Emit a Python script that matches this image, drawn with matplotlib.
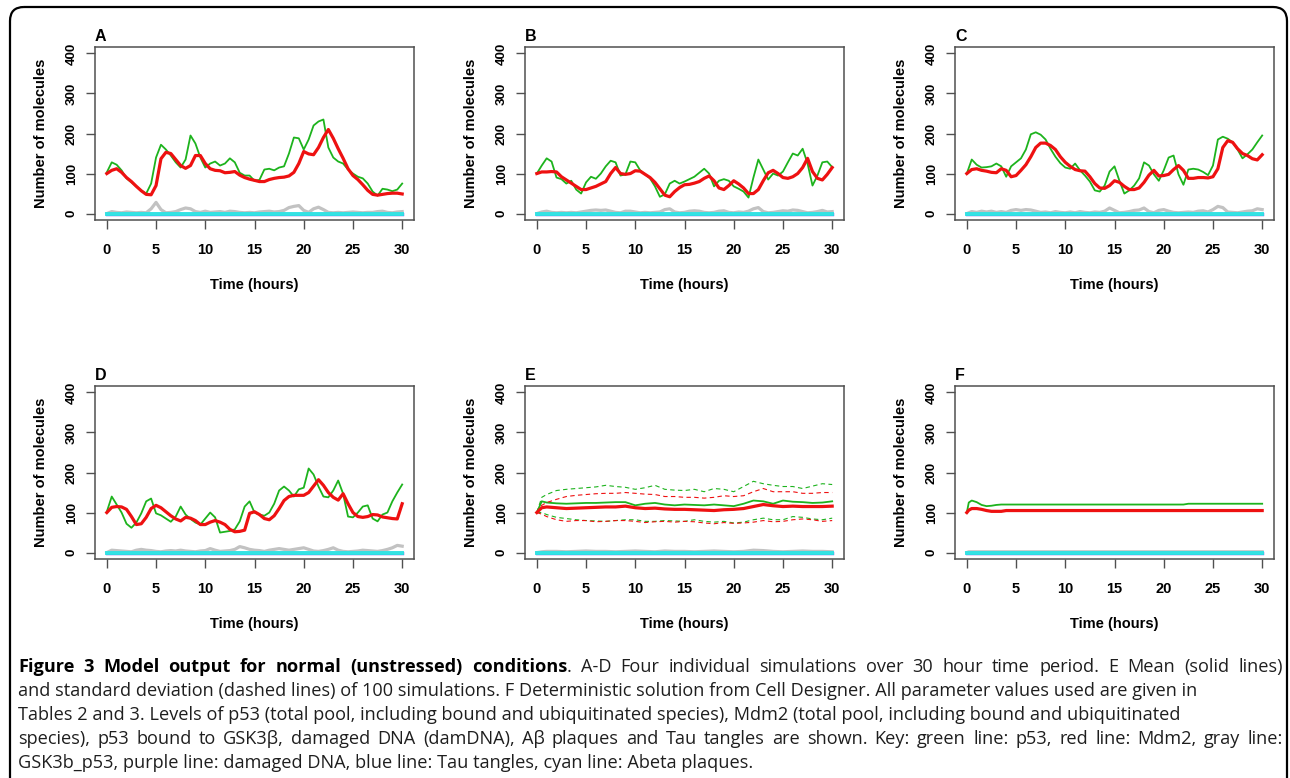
import numpy as np
import matplotlib
matplotlib.use('Agg')
import matplotlib.pyplot as plt
from matplotlib.patches import FancyBboxPatch

# time grid of the stochastic runs (hours)
hours = np.arange(0, 30.5, 0.5)

# Panel A
a_p53 = [103, 128, 122, 108, 88, 78, 68, 57, 50, 75, 140, 172, 160, 145, 128, 115, 135, 195, 175, 140,
         115, 125, 130, 120, 125, 138, 128, 102, 95, 95, 82, 84, 110, 112, 108, 115, 118, 150, 190, 188,
         160, 185, 220, 230, 235, 165, 140, 130, 125, 110, 100, 92, 88, 75, 55, 45, 62, 60, 56, 60, 75]
a_mdm2 = [100, 108, 112, 103, 90, 80, 68, 57, 48, 47, 70, 137, 153, 150, 135, 120, 113, 120, 145, 145,
          125, 112, 108, 107, 102, 103, 105, 96, 90, 86, 83, 80, 80, 85, 88, 90, 91, 94, 103, 125,
          155, 149, 147, 165, 190, 210, 188, 162, 138, 112, 95, 85, 72, 58, 48, 46, 48, 50, 51, 51, 49]
a_gsk = [0, 5, 3, 2, 4, 3, 2, 3, 2, 12, 28, 10, 2, 3, 5, 10, 14, 12, 5, 3,
         6, 3, 4, 5, 3, 6, 5, 3, 2, 3, 2, 4, 5, 6, 4, 5, 8, 15, 18, 20,
         8, 3, 12, 16, 10, 3, 2, 3, 2, 3, 4, 3, 2, 3, 3, 5, 6, 3, 2, 4, 5]

# Panel B
b_p53 = [100, 120, 138, 130, 90, 86, 75, 82, 60, 50, 78, 92, 87, 100, 118, 132, 128, 95, 98, 130,
         128, 108, 98, 88, 68, 42, 48, 75, 82, 75, 80, 86, 92, 102, 112, 100, 68, 82, 86, 82,
         68, 62, 55, 40, 90, 135, 110, 85, 100, 95, 105, 128, 150, 145, 162, 125, 70, 95, 128, 130, 116]
b_mdm2 = [100, 104, 104, 105, 104, 92, 84, 76, 68, 60, 60, 64, 68, 74, 80, 100, 115, 100, 98, 100,
          107, 106, 98, 90, 78, 62, 46, 42, 55, 65, 72, 73, 76, 80, 88, 94, 82, 64, 60, 70,
          82, 74, 64, 50, 50, 60, 82, 102, 108, 100, 90, 88, 92, 100, 115, 138, 105, 88, 84, 98, 115]
b_gsk = [0, 4, 6, 3, 2, 3, 2, 3, 2, 4, 6, 8, 9, 8, 9, 6, 3, 2, 6, 6,
         4, 2, 3, 2, 3, 4, 10, 12, 4, 2, 3, 6, 7, 6, 3, 2, 3, 6, 7, 3,
         2, 4, 3, 6, 12, 15, 5, 2, 3, 5, 7, 6, 9, 8, 5, 2, 3, 5, 8, 4, 5]

# Panel C
c_p53 = [100, 135, 122, 115, 116, 118, 125, 118, 92, 118, 128, 138, 160, 198, 203, 197, 185, 162, 142, 126,
         115, 112, 125, 108, 95, 80, 58, 55, 70, 105, 118, 82, 50, 58, 70, 88, 128, 120, 98, 82,
         108, 140, 145, 98, 72, 110, 112, 110, 104, 96, 120, 185, 192, 187, 178, 160, 138, 148, 160, 178, 195]
c_mdm2 = [100, 110, 112, 108, 106, 103, 102, 112, 108, 92, 95, 108, 122, 142, 165, 176, 176, 170, 160, 142,
          128, 118, 110, 107, 106, 92, 75, 64, 63, 70, 82, 78, 68, 60, 60, 64, 78, 96, 108, 94,
          95, 98, 110, 120, 108, 88, 88, 90, 90, 89, 92, 112, 165, 182, 178, 162, 150, 145, 137, 134, 147]
c_gsk = [0, 5, 3, 6, 4, 6, 3, 5, 3, 8, 10, 8, 10, 9, 6, 3, 4, 2, 5, 3,
         2, 4, 2, 5, 3, 2, 4, 3, 6, 14, 8, 2, 3, 5, 8, 9, 14, 5, 2, 8,
         10, 6, 3, 2, 3, 4, 3, 6, 7, 4, 10, 18, 15, 4, 3, 2, 4, 6, 7, 12, 10]

# Panel D
d_p53 = [102, 140, 120, 100, 72, 62, 75, 98, 128, 135, 98, 93, 85, 77, 90, 115, 95, 84, 75, 70,
         85, 100, 88, 50, 52, 54, 58, 78, 115, 128, 100, 95, 92, 100, 122, 155, 165, 155, 140, 158,
         162, 210, 195, 165, 140, 138, 155, 180, 147, 90, 88, 100, 115, 118, 85, 78, 95, 100, 128, 150, 170]
d_mdm2 = [100, 113, 115, 114, 108, 90, 70, 72, 88, 110, 118, 112, 102, 92, 84, 79, 88, 86, 80, 70,
          70, 76, 80, 76, 70, 58, 52, 53, 56, 98, 102, 95, 85, 82, 92, 110, 130, 140, 143, 143,
          143, 150, 166, 182, 168, 150, 138, 131, 147, 122, 100, 90, 88, 90, 95, 94, 89, 87, 85, 84, 122]
d_gsk = [0, 6, 5, 4, 3, 2, 6, 8, 6, 5, 3, 2, 4, 5, 4, 6, 4, 3, 2, 4,
         5, 10, 6, 3, 4, 5, 8, 15, 12, 8, 6, 5, 3, 6, 8, 10, 8, 6, 8, 10,
         12, 8, 4, 3, 5, 8, 12, 6, 3, 2, 3, 4, 6, 5, 4, 3, 5, 8, 12, 18, 16]

# Panel E: mean and mean +/- sd of 100 runs
e_hours = [0, 0.5] + list(range(1, 31))
e_p53 = [100, 128, 125, 123, 122, 123, 124, 124, 125, 126, 126, 118, 122, 124, 120, 118,
         120, 119, 118, 120, 118, 116, 122, 130, 128, 122, 130, 127, 126, 124, 125, 128]
e_mdm2 = [100, 112, 114, 112, 110, 111, 112, 113, 114, 114, 116, 112, 110, 111, 109, 108,
          108, 107, 106, 105, 107, 108, 110, 115, 120, 117, 115, 116, 115, 115, 115, 116]
e_p53_hi = [100, 138, 145, 155, 158, 160, 162, 164, 168, 165, 163, 158, 162, 168, 158, 156,
            155, 158, 152, 160, 158, 152, 165, 178, 172, 168, 165, 165, 160, 166, 172, 170]
e_p53_lo = [100, 100, 95, 88, 85, 82, 80, 79, 78, 80, 82, 82, 78, 78, 80, 79,
            78, 82, 78, 76, 78, 74, 76, 82, 86, 82, 82, 90, 88, 84, 82, 86]
e_mdm2_hi = [100, 118, 125, 133, 140, 143, 145, 147, 148, 148, 150, 148, 146, 145, 140, 140,
             138, 138, 136, 138, 142, 140, 142, 152, 160, 152, 152, 152, 148, 148, 150, 150]
e_mdm2_lo = [100, 96, 90, 82, 78, 80, 80, 77, 78, 80, 80, 78, 75, 77, 78, 76,
             78, 77, 74, 72, 75, 73, 74, 76, 80, 77, 78, 82, 84, 82, 78, 80]
e_gsk = [0, 2, 3, 3, 2, 3, 4, 3, 3, 2, 3, 4, 3, 2, 4, 3,
         3, 2, 3, 4, 3, 2, 3, 6, 5, 3, 2, 3, 4, 3, 3, 2]

# Panel F: deterministic solution
f_hours = [0, 0.2, 0.5, 1, 1.5, 2, 2.5, 3, 3.5, 4, 22, 22.5, 30]
f_p53 = [100, 125, 130, 126, 119, 116, 117, 119, 120, 120, 120, 122, 122]
f_mdm2 = [100, 106, 110, 110, 108, 105, 103, 103, 103, 105, 105, 105, 105]
f_gsk = [0, 2, 2, 2, 2, 2, 2, 2, 2, 2, 2, 2, 2]

GREEN = '#1db31d'
RED = '#ee1111'
GRAY = '#c2c2c2'
CYAN = '#33e3e3'
PURPLE = '#b040c0'
BLUE = '#2030ff'

plt.rcParams['font.family'] = ['Liberation Sans', 'DejaVu Sans']
plt.rcParams['font.weight'] = 'bold'

fig = plt.figure(figsize=(12.9, 7.78), dpi=100)

# border + caption drawn in pixel coordinates
bg = fig.add_axes([0, 0, 1, 1], zorder=-1)
bg.set_xlim(0, 1290)
bg.set_ylim(778, 0)
bg.axis('off')
bg.add_patch(FancyBboxPatch((10, 7), 1277, 820, boxstyle='round,pad=0,rounding_size=14',
                            fill=False, ec='black', lw=1.6, clip_on=False))


def style_axes(ax, label):
    ax.set_xlim(-1.2, 31.2)
    ax.set_ylim(-16, 416)
    ax.set_xticks(range(0, 31, 5))
    ax.set_yticks(range(0, 401, 100))
    for s in ax.spines.values():
        s.set_color('#505050')
        s.set_linewidth(1.1)
    ax.tick_params(axis='both', colors='#505050', labelcolor='black', length=6.5, width=1.0)
    ax.tick_params(axis='x', pad=10, labelsize=10.5)
    ax.tick_params(axis='y', pad=6, labelsize=9.5)
    for t in ax.get_yticklabels():
        t.set_rotation(90)
        t.set_va('center')
    ax.set_xlabel('Time (hours)', fontsize=10.5, fontweight='bold', labelpad=15)
    ax.set_ylabel('Number of molecules', fontsize=10.5, fontweight='bold', labelpad=13)
    ax.text(0.0, 1.02, label, transform=ax.transAxes, fontsize=11.5, fontweight='bold',
            ha='left', va='bottom')


def draw_run(ax, t, p53, mdm2, gsk):
    zero = [0] * len(t)
    ax.plot(t, p53, color=GREEN, lw=1.3, zorder=3)
    ax.plot(t, mdm2, color=RED, lw=2.3, zorder=4)
    ax.plot(t, gsk, color=GRAY, lw=2.3, zorder=2)
    ax.plot(t, zero, color=PURPLE, lw=2.3, zorder=2)
    ax.plot(t, zero, color=BLUE, lw=2.3, zorder=2)
    ax.plot(t, zero, color=CYAN, lw=2.8, zorder=5)


lefts = [95, 525, 955]
rows = [(47, 220), (386, 559)]
panels = [
    ('A', hours, a_p53, a_mdm2, a_gsk),
    ('B', hours, b_p53, b_mdm2, b_gsk),
    ('C', hours, c_p53, c_mdm2, c_gsk),
    ('D', hours, d_p53, d_mdm2, d_gsk),
    ('E', e_hours, e_p53, e_mdm2, e_gsk),
    ('F', f_hours, f_p53, f_mdm2, f_gsk),
]
for i, (label, t, p53, mdm2, gsk) in enumerate(panels):
    top, bottom = rows[i // 3]
    left = lefts[i % 3]
    ax = fig.add_axes([left / 1290, 1 - bottom / 778, 319 / 1290, (bottom - top) / 778])
    draw_run(ax, t, p53, mdm2, gsk)
    if label == 'E':
        ax.plot(t, e_p53_hi, color=GREEN, lw=0.8, ls=(0, (4, 3)), zorder=3)
        ax.plot(t, e_p53_lo, color=GREEN, lw=0.8, ls=(0, (4, 3)), zorder=3)
        ax.plot(t, e_mdm2_hi, color=RED, lw=0.8, ls=(0, (4, 3)), zorder=3)
        ax.plot(t, e_mdm2_lo, color=RED, lw=0.8, ls=(0, (4, 3)), zorder=3)
    style_axes(ax, label)

# caption
cap_bold = 'Figure 3 Model output for normal (unstressed) conditions'
cap_lines = [
    '. A-D Four individual simulations over 30 hour time period. E Mean (solid lines)',
    'and standard deviation (dashed lines) of 100 simulations. F Deterministic solution from Cell Designer. All parameter values used are given in',
    'Tables 2 and 3. Levels of p53 (total pool, including bound and ubiquitinated species), Mdm2 (total pool, including bound and ubiquitinated',
    'species), p53 bound to GSK3\u03b2, damaged DNA (damDNA), A\u03b2 plaques and Tau tangles are shown. Key: green line: p53, red line: Mdm2, gray line:',
    'GSK3b_p53, purple line: damaged DNA, blue line: Tau tangles, cyan line: Abeta plaques.',
]
cap_font = ['Open Sans', 'DejaVu Sans']
TXT = '#1e1e1e'
renderer = fig.canvas.get_renderer()

# fit the caption size so line 3 ends where it does in the figure
probe = bg.text(18, 700, cap_lines[2], fontsize=12, family=cap_font, fontweight='normal')
w = probe.get_window_extent(renderer).width
probe.remove()
cap_size = 12 * (1180 - 18) / w

x0, y0, dy = 18, 667, 24


def justify(y, groups, right):
    """Place word groups on one line, spread out to reach the right edge."""
    placed = []
    total = 0
    for g in groups:
        parts = []
        for txt, wt, col in g:
            t = bg.text(0, y, txt, fontsize=cap_size, family=cap_font, fontweight=wt,
                        va='center', ha='left', color=col)
            w = t.get_window_extent(renderer).width
            parts.append((t, w))
            total += w
        placed.append(parts)
    gap = (right - x0 - total) / (len(groups) - 1)
    x = x0
    for parts in placed:
        for t, w in parts:
            t.set_x(x)
            x += w
        x += gap


# line 1: bold title + regular text, justified
bold_words = cap_bold.split()
reg_words = cap_lines[0][1:].split()
groups = [[(wd, 'bold', 'black')] for wd in bold_words[:-1]]
groups.append([(bold_words[-1], 'bold', 'black'), ('.', 'normal', TXT)])
groups += [[(wd, 'normal', TXT)] for wd in reg_words]
justify(y0, groups, 1283)

bg.text(x0, y0 + dy, cap_lines[1], fontsize=cap_size, family=cap_font, fontweight='normal',
        va='center', ha='left', color=TXT)
bg.text(x0, y0 + 2 * dy, cap_lines[2], fontsize=cap_size, family=cap_font, fontweight='normal',
        va='center', ha='left', color=TXT)
justify(y0 + 3 * dy, [[(wd, 'normal', TXT)] for wd in cap_lines[3].split()], 1283)
bg.text(x0, y0 + 4 * dy, cap_lines[4], fontsize=cap_size, family=cap_font, fontweight='normal',
        va='center', ha='left', color=TXT)

fig.savefig('out.png', dpi=100)
